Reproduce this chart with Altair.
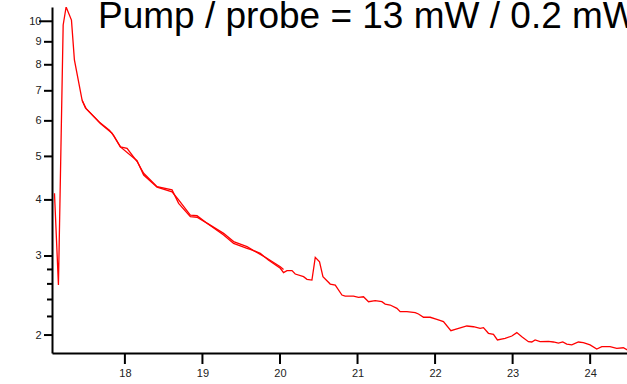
import altair as alt
import pandas as pd

title_text = "Pump / probe = 13 mW / 0.2 mW"

# main trace (time, signal)
x_main = [17.092, 17.143, 17.204, 17.242, 17.311, 17.349, 17.448, 17.491, 17.642, 17.684,
          17.835, 17.942, 18.028, 18.157, 18.242, 18.415, 18.608, 18.693, 18.844, 18.930,
          19.059, 19.273, 19.402, 19.575, 19.617, 19.746, 19.850, 20.004, 20.046, 20.090,
          20.155, 20.197, 20.304, 20.348, 20.412, 20.455, 20.510, 20.554, 20.648, 20.713,
          20.799, 20.841, 20.948, 21.013, 21.077, 21.142, 21.228, 21.314, 21.357, 21.421,
          21.508, 21.550, 21.637, 21.744, 21.786, 21.851, 21.937, 22.023, 22.108, 22.204,
          22.281, 22.410, 22.495, 22.581, 22.624, 22.688, 22.753, 22.804, 22.903, 22.990,
          23.054, 23.119, 23.204, 23.247, 23.290, 23.354, 23.461, 23.526, 23.590, 23.647,
          23.698, 23.763, 23.848, 23.912, 23.999, 24.085, 24.150, 24.256, 24.343, 24.428,
          24.479]
y_main = [4.14, 2.585, 9.81, 10.76, 10.06, 8.20, 6.675, 6.41, 6.03, 5.92,
          5.63, 5.25, 5.21, 4.87, 4.585, 4.28, 4.21, 3.93, 3.67, 3.66,
          3.55, 3.34, 3.20, 3.12, 3.105, 3.04, 2.94, 2.817, 2.754, 2.783,
          2.783, 2.735, 2.698, 2.662, 2.652, 2.980, 2.913, 2.698, 2.598, 2.585,
          2.456, 2.443, 2.443, 2.427, 2.434, 2.373, 2.386, 2.373, 2.345, 2.333,
          2.294, 2.255, 2.255, 2.243, 2.228, 2.191, 2.191, 2.168, 2.142, 2.045,
          2.063, 2.095, 2.087, 2.070, 2.077, 2.018, 2.008, 1.950, 1.967, 1.990,
          2.025, 1.983, 1.933, 1.930, 1.950, 1.933, 1.937, 1.930, 1.918, 1.930,
          1.910, 1.901, 1.930, 1.923, 1.901, 1.862, 1.884, 1.884, 1.868, 1.874,
          1.852]

# second (overlapping) scan
x_scan2 = [17.448, 17.500, 17.660, 17.800, 17.860, 17.942, 18.157, 18.242, 18.415, 18.608,
           18.693, 18.844, 18.930, 19.059, 19.273, 19.402, 19.575, 19.832, 20.004, 20.046]
y_scan2 = [6.66, 6.39, 5.98, 5.72, 5.55, 5.25, 4.89, 4.545, 4.27, 4.17,
           4.00, 3.70, 3.69, 3.55, 3.37, 3.23, 3.147, 2.965, 2.84, 2.80]

y_major = [2.0, 3.0, 4.0, 5.0, 6.0, 7.0, 8.0, 9.0]
y_minor = [2.2, 2.4, 2.6, 2.8]
y_decade = [10.0]
x_ticks = [18.0, 19.0, 20.0, 21.0, 22.0, 23.0, 24.0]

rows = []
for i, (a, b) in enumerate(zip(x_main, y_main)):
    rows.append({"t": a, "s": b, "trace": "scan1", "i": i})
for i, (a, b) in enumerate(zip(x_scan2, y_scan2)):
    rows.append({"t": a, "s": b, "trace": "scan2", "i": i})
df = pd.DataFrame(rows)

xs = alt.Scale(domain=[17.06, 24.475], nice=False, zero=False)
ys = alt.Scale(type="log", domain=[1.824, 10.76], nice=False)

x_axis = alt.Axis(values=x_ticks, format="d", title=None, grid=False, ticks=False,
                  domainColor="black", domainWidth=2,
                  labelFont="Liberation Sans", labelFontSize=11, labelColor="#222222",
                  labelPadding=14)
y_axis = alt.Axis(values=y_major + y_decade, format="d", title=None, grid=False, ticks=False,
                  domainColor="black", domainWidth=2,
                  labelFont="Liberation Sans", labelFontSize=11, labelColor="#222222",
                  labelPadding=11)

line = alt.Chart(df).mark_line(color="#ff0000", strokeWidth=1.3, clip=True).encode(
    x=alt.X("t:Q", scale=xs, axis=x_axis),
    y=alt.Y("s:Q", scale=ys, axis=y_axis),
    detail="trace:N",
    order="i:Q",
)

tick_rows = []
for v in y_major:
    tick_rows.append({"s": v, "len": 8})
for v in y_minor:
    tick_rows.append({"s": v, "len": 5})
for v in y_decade:
    tick_rows.append({"s": v, "len": 13})
ytick_df = pd.DataFrame(tick_rows)

yt = alt.Chart(ytick_df).transform_calculate(
    x0="-datum.len"
).mark_rule(color="black", strokeWidth=2).encode(
    y=alt.Y("s:Q", scale=ys, axis=y_axis),
    x=alt.X("x0:Q", scale=None),
    x2=alt.value(0),
)

xt = alt.Chart(pd.DataFrame({"t": x_ticks})).mark_rule(color="black", strokeWidth=2).encode(
    x=alt.X("t:Q", scale=xs, axis=x_axis),
    y=alt.value(346),
    y2=alt.value(357),
)

title = alt.Chart(pd.DataFrame({"label": [title_text]})).mark_text(
    align="left", baseline="alphabetic", fontSize=37, font="Liberation Sans", color="black"
).encode(
    x=alt.value(46),
    y=alt.value(21),
    text="label:N",
)

chart = alt.layer(line, yt, xt, title).properties(
    width=575,
    height=346,
    padding={"left": 52, "top": 7, "right": 0, "bottom": 31},
    autosize=alt.AutoSizeParams(type="none"),
    background="white",
).configure_view(stroke=None)

chart.save("out.html", embed_options={"renderer": "svg", "actions": False})
